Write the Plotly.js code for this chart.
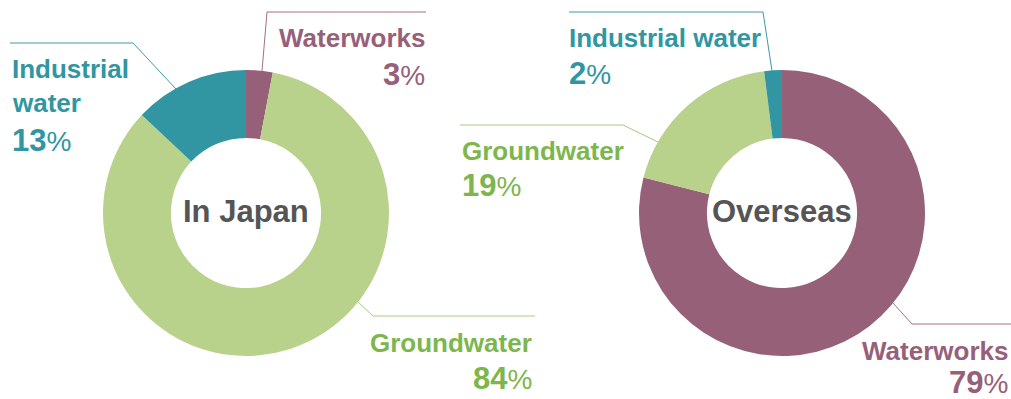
<!DOCTYPE html>
<html>
<head>
<meta charset="utf-8">
<script src="https://cdn.plot.ly/plotly-3.0.1.min.js"></script>
<style>html,body{margin:0;padding:0;background:#fff}#chart{width:1011px;height:399px}</style>
</head>
<body>
<div id="chart"></div>
<script>
// ---- data ----
const categories = ['Waterworks', 'Groundwater', 'Industrial water'];
const japanValues = [3, 84, 13];
const overseasValues = [79, 19, 2];
const chartTitles = ['In Japan', 'Overseas'];
const japanLabelLines = [['Waterworks'], ['Groundwater'], ['Industrial', 'water']];
const overseasLabelLines = [['Waterworks'], ['Groundwater'], ['Industrial water']];

// ---- styles ----
const sliceColors = ['#976079', '#b8d28b', '#3196a2'];
const textColors = ['#976079', '#7db64c', '#3196a2'];
const lineColors = ['#a56f86', '#a6cc7c', '#3a9ca8'];
const W = 1011, H = 399;
const px = x => x / W;
const py = y => 1 - y / H;

const FONT = 'Liberation Sans, Arial, sans-serif';
const nameSize = 26, numSize = 31, pctSize = 28;

// label placement (pixel layout): per chart, per category
const placements = [
  [ // Japan
    {x: 426, anchor: 'right', base: [47, 86], line: [[262, 71], [267, 12], [426, 12]]},
    {x: 533, anchor: 'right', base: [352, 390], line: [[358, 302], [373, 316], [535, 316]]},
    {x: 11, anchor: 'left', base: [78, 112, 152], line: [[176, 89], [133, 43], [10, 43]]}
  ],
  [ // Overseas
    {x: 1009, anchor: 'right', base: [360, 394], line: [[893, 303], [912, 324], [1011, 324]]},
    {x: 461, anchor: 'left', base: [160, 197], line: [[658, 142], [623, 125], [460, 125]]},
    {x: 568, anchor: 'left', base: [47, 85], line: [[772, 71], [763, 12], [569, 12]]}
  ]
];
const centers = [[246, 213], [782, 213]];
const R = 143;

const traces = [japanValues, overseasValues].map((vals, i) => {
  const [cx, cy] = centers[i];
  return {
    type: 'pie',
    values: vals,
    labels: categories,
    sort: false,
    direction: 'clockwise',
    rotation: 0,
    hole: 0.525,
    marker: {colors: sliceColors, line: {width: 0}},
    textinfo: 'none',
    hoverinfo: 'none',
    domain: {x: [px(cx - R), px(cx + R)], y: [py(cy + R), py(cy - R)]}
  };
});

const annotations = [];
const shapes = [];
function addText(text, x, baseline, anchor, size, color) {
  annotations.push({
    xref: 'paper', yref: 'paper', x: px(x), y: py(baseline - 0.36 * size),
    xanchor: anchor, yanchor: 'middle', showarrow: false, borderpad: 0,
    text: text, font: {family: FONT, size: size, color: color, weight: 'bold'}
  });
}
[japanValues, overseasValues].forEach((vals, i) => {
  const lines = i === 0 ? japanLabelLines : overseasLabelLines;
  vals.forEach((v, k) => {
    const p = placements[i][k];
    lines[k].forEach((t, j) => addText(t, p.x, p.base[j], p.anchor, nameSize, textColors[k]));
    const numText = v + '<span style="font-weight:normal;font-size:' + pctSize + 'px">%</span>';
    addText(numText, p.x, p.base[p.base.length - 1], p.anchor, numSize, textColors[k]);
    for (let s = 0; s < p.line.length - 1; s++) {
      shapes.push({
        type: 'line', xref: 'paper', yref: 'paper',
        x0: px(p.line[s][0]), y0: py(p.line[s][1]),
        x1: px(p.line[s + 1][0]), y1: py(p.line[s + 1][1]),
        line: {color: lineColors[k], width: 1}
      });
    }
  });
  addText(chartTitles[i], centers[i][0], 223, 'center', 31, '#555555');
});

const layout = {
  width: W, height: H,
  margin: {l: 0, r: 0, t: 0, b: 0},
  showlegend: false,
  paper_bgcolor: '#ffffff',
  annotations: annotations,
  shapes: shapes
};
Plotly.newPlot('chart', traces, layout, {displayModeBar: false, staticPlot: true});
</script>
</body>
</html>
